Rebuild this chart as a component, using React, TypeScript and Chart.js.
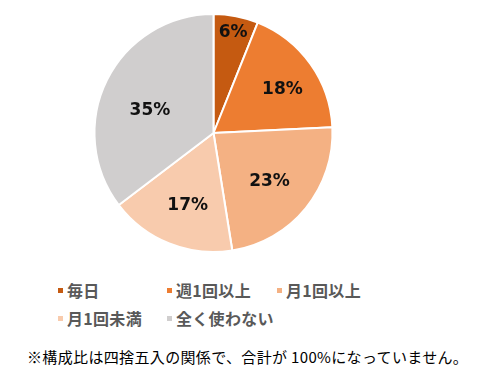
import React, { useEffect, useRef } from "react";
import { Chart, registerables } from "chart.js";

Chart.register(...registerables);

const categories = ["毎日", "週1回以上", "月1回以上", "月1回未満", "全く使わない"];
const shares = [6, 18, 23, 17, 35];
const colors = ["#C55A11", "#ED7D31", "#F4B183", "#F8CBAD", "#D0CECE"];
const footnote = "※構成比は四捨五入の関係で、合計が 100%になっていません。";

// label placement (styling only): radial fraction and angular shift in degrees
const labelRadius = [0.87, 0.69, 0.62, 0.64, 0.57];
const labelShift = [0, 2.5, 1.5, -2, -6];

const labelPlugin = {
  id: "sliceLabels",
  afterDatasetsDraw(chart: any) {
    const ctx = chart.ctx;
    const meta = chart.getDatasetMeta(0);
    ctx.save();
    ctx.font = "bold 17px 'DejaVu Sans', sans-serif";
    ctx.fillStyle = "#111111";
    ctx.textAlign = "center";
    ctx.textBaseline = "middle";
    meta.data.forEach((arc: any, i: number) => {
      const { x, y, startAngle, endAngle, outerRadius } = arc.getProps(
        ["x", "y", "startAngle", "endAngle", "outerRadius"],
        true
      );
      const mid = (startAngle + endAngle) / 2 + (labelShift[i] * Math.PI) / 180;
      const r = outerRadius * labelRadius[i];
      ctx.fillText(shares[i] + "%", x + Math.cos(mid) * r, y + Math.sin(mid) * r + 1);
    });
    ctx.restore();
  },
};

const legendPos = [
  { x: 58, y: 290 },
  { x: 167, y: 290 },
  { x: 277, y: 290 },
  { x: 58, y: 318 },
  { x: 167, y: 318 },
];

export default function App() {
  const ref = useRef<HTMLCanvasElement | null>(null);

  useEffect(() => {
    if (!ref.current) return;
    const chart = new Chart(ref.current, {
      type: "pie",
      data: {
        labels: categories,
        datasets: [
          {
            data: shares,
            backgroundColor: colors,
            borderColor: "#ffffff",
            borderWidth: 2,
          },
        ],
      },
      options: {
        responsive: false,
        animation: false,
        layout: { padding: { top: 13, bottom: 17, left: 0, right: 50 } },
        plugins: {
          legend: { display: false },
          tooltip: { enabled: false },
        },
      },
      plugins: [labelPlugin],
    });
    return () => chart.destroy();
  }, []);

  return (
    <div
      style={{
        position: "fixed",
        left: 0,
        top: 0,
        width: 477,
        height: 375,
        background: "#ffffff",
        overflow: "hidden",
      }}
    >
      <canvas
        ref={ref}
        width={477}
        height={270}
        style={{ position: "absolute", left: 0, top: 0, width: 477, height: 270 }}
      />
      {categories.map((c, i) => (
        <div
          key={c}
          style={{
            position: "absolute",
            left: legendPos[i].x,
            top: legendPos[i].y - 12,
            height: 24,
            display: "flex",
            alignItems: "center",
            whiteSpace: "nowrap",
            fontFamily: "'Noto Sans CJK JP', sans-serif",
            fontWeight: 700,
            fontSize: 16,
            letterSpacing: "0.3px",
            color: "#595959",
          }}
        >
          <span
            style={{
              display: "inline-block",
              width: 5,
              height: 5,
              background: colors[i],
              marginRight: 4,
            }}
          />
          <span>{c}</span>
        </div>
      ))}
      <div
        style={{
          position: "absolute",
          left: 27,
          top: 346,
          height: 22,
          lineHeight: "22px",
          whiteSpace: "nowrap",
          fontFamily: "'Noto Sans CJK JP', sans-serif",
          fontSize: 15,
          letterSpacing: "0.35px",
          color: "#000000",
        }}
      >
        {footnote}
      </div>
    </div>
  );
}
